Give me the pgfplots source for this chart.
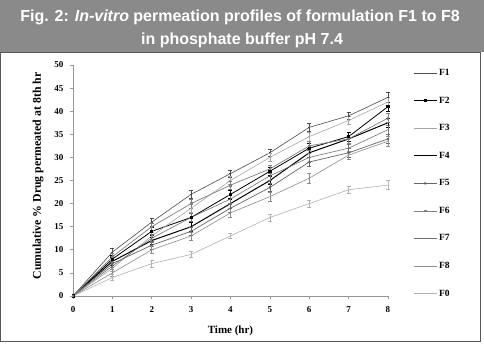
\documentclass[border=0pt]{standalone}
\usepackage{pgfplots}
\pgfplotsset{compat=1.18}
\usepackage{fontspec}
\setmainfont{Liberation Serif}
\newfontfamily\hdrfont{Liberation Sans}
\definecolor{hdrgray}{RGB}{138,138,138}
\definecolor{axgray}{RGB}{150,150,150}
\pgfplotsset{eb/.style={error bars/.cd, y dir=both, y explicit, error bar style={line width=0.5pt}, error mark options={rotate=90, mark size=2pt, line width=0.5pt}}}
\begin{document}
\begin{tikzpicture}[x=1pt,y=1pt]
\useasboundingbox (0,0) rectangle (484,344);
\fill[white] (0,0) rectangle (484,344);
\fill[hdrgray] (0,292) rectangle (484,344);
\draw[black!65, line width=0.8pt] (0.4,3) rectangle (480,292);
\node[font=\hdrfont\bfseries\fontsize{16}{18}\selectfont, text=white] at (240,327) {Fig. 2: \textit{In-vitro} permeation profiles of formulation F1 to F8};
\node[font=\hdrfont\bfseries\fontsize{16}{18}\selectfont, text=white] at (242,304) {in phosphate buffer pH 7.4};
\begin{axis}[at={(73pt,48pt)}, anchor=south west, scale only axis, width=315pt, height=231pt,
  xmin=0, xmax=8, ymin=0, ymax=50, xtick={0,...,8}, ytick={0,5,...,50}, clip=false,
  axis lines=left, axis line style={-, axgray, line width=0.8pt},
  tick style={axgray, line width=0.6pt}, tick align=outside, major tick length=3pt,
  /pgf/number format/assume math mode=true,
  tick label style={font=\bfseries\fontsize{9}{10}\selectfont},
  xticklabel style={yshift=-4pt}, yticklabel style={xshift=-3pt},
  xlabel={\bfseries Time (hr)}, ylabel={\bfseries Cumulative \% Drug permeated at 8th hr},
  xlabel style={font=\bfseries\fontsize{11}{12}\selectfont, at={(axis description cs:0.5,-0.152)}, anchor=center},
  ylabel style={font=\bfseries\fontsize{11.8}{13}\selectfont, at={(axis description cs:-0.111,0.52)}, anchor=center, rotate=0},
  legend style={at={(axis description cs:1.07,1.0)}, anchor=north west, draw=none, fill=none,
    font=\bfseries\fontsize{9.5}{11}\selectfont, row sep=15.8pt},
  legend cell align=left,
  legend image code/.code={\draw[mark repeat=2,mark phase=2,#1] plot coordinates {(0cm,0cm) (0.4cm,0cm) (0.8cm,0cm)};},
]
\addplot[black!70, line width=0.6pt, mark=-, mark size=1pt, eb] table[x=t,y=c,y error=e] {
t c e
0 0 0
1 9.5 0.8
2 16 0.8
3 22 0.8
4 26.5 0.8
5 31 0.8
6 36.5 0.9
7 39 0.8
8 43 1.0
};
\addlegendentry{F1}
\addplot[black, line width=0.8pt, mark=square*, mark size=1.1pt, eb] table[x=t,y=c,y error=e] {
t c e
0 0 0
1 8 0.8
2 14 0.9
3 17 1.0
4 22 0.9
5 27 0.9
6 32 1.0
7 34.5 0.9
8 41 1.0
};
\addlegendentry{F2}
\addplot[black!35, line width=0.6pt, mark=-, mark size=1pt, eb] table[x=t,y=c,y error=e] {
t c e
0 0 0
1 6 0.7
2 13 0.8
3 19 0.9
4 25 0.9
5 30 0.9
6 34.5 1.0
7 38 0.9
8 42 1.0
};
\addlegendentry{F3}
\addplot[black, line width=1pt, eb] table[x=t,y=c,y error=e] {
t c e
0 0 0
1 7.5 0.8
2 12 0.8
3 15 0.9
4 20 0.9
5 25 0.9
6 31 1.0
7 34 0.9
8 37.5 1.0
};
\addlegendentry{F4}
\addplot[black!60, line width=0.7pt, mark=*, mark size=0.9pt, eb] table[x=t,y=c,y error=e] {
t c e
0 0 0
1 7 0.8
2 11 0.8
3 14 0.9
4 19 0.9
5 23.5 0.9
6 29 1.0
7 31 0.9
8 34 1.0
};
\addlegendentry{F5}
\addplot[black!50, line width=0.7pt, mark=square*, mark size=0.8pt, eb] table[x=t,y=c,y error=e] {
t c e
0 0 0
1 8.5 0.8
2 15 0.8
3 20 0.9
4 24 0.9
5 27.5 0.9
6 32.5 1.0
7 34 0.9
8 38.5 1.0
};
\addlegendentry{F6}
\addplot[black!55, line width=0.6pt, eb] table[x=t,y=c,y error=e] {
t c e
0 0 0
1 6.5 0.7
2 12.5 0.8
3 17 0.9
4 21 0.9
5 26 0.9
6 30 1.0
7 32 0.9
8 36 1.0
};
\addlegendentry{F7}
\addplot[black!45, line width=0.6pt, eb] table[x=t,y=c,y error=e] {
t c e
0 0 0
1 5 0.7
2 10 0.8
3 13 0.9
4 18 0.9
5 21.5 0.9
6 25.5 1.0
7 30.5 0.9
8 33.5 1.0
};
\addlegendentry{F8}
\addplot[black!30, line width=0.6pt, eb] table[x=t,y=c,y error=e] {
t c e
0 0 0
1 4 0.6
2 7 0.7
3 9 0.7
4 13 0.6
5 17 0.8
6 20 0.7
7 23 0.8
8 24 1.0
};
\addlegendentry{F0}
\end{axis}
\end{tikzpicture}
\end{document}
